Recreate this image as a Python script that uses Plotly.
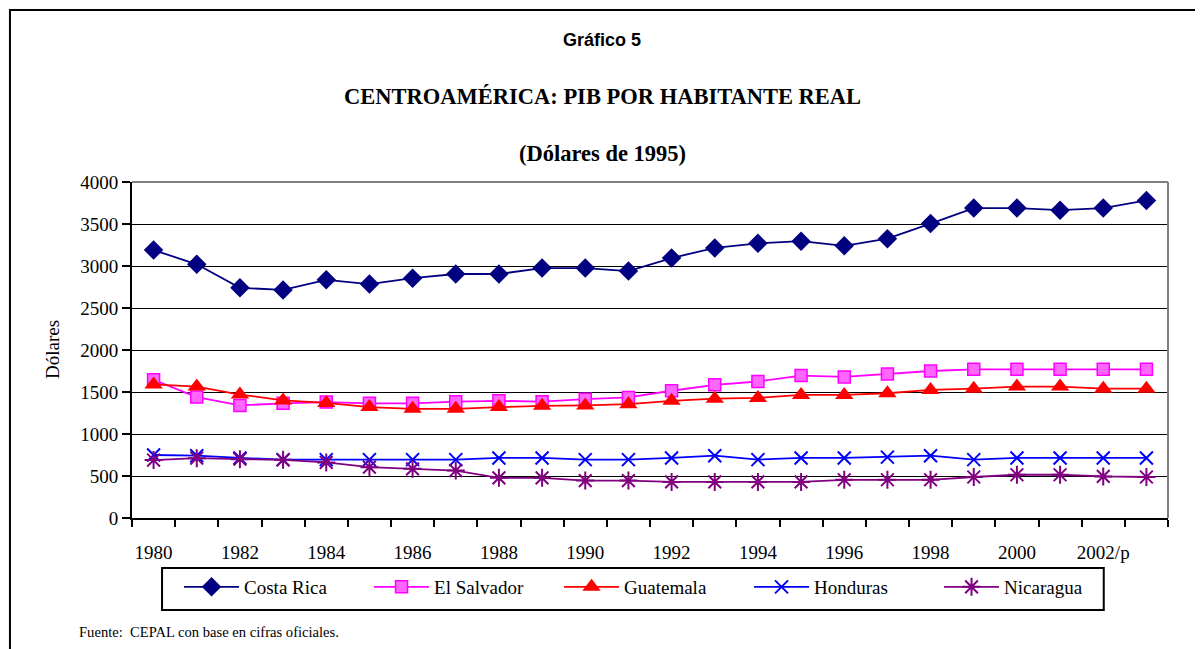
import plotly.graph_objects as go

years = list(range(1980, 2004))
tick_years = list(range(1980, 2003, 2))
tick_labels = ["1980", "1982", "1984", "1986", "1988", "1990", "1992", "1994",
               "1996", "1998", "2000", "2002/p"]

costa_rica = [3190, 3020, 2740, 2715, 2835, 2785, 2855, 2905, 2905, 2975, 2975, 2940,
              3095, 3215, 3270, 3295, 3240, 3325, 3505, 3690, 3690, 3665, 3690, 3780]
el_salvador = [1645, 1440, 1340, 1365, 1380, 1365, 1365, 1385, 1395, 1385, 1415, 1435,
               1515, 1585, 1625, 1695, 1680, 1715, 1750, 1770, 1770, 1770, 1770, 1770]
guatemala = [1590, 1565, 1470, 1400, 1370, 1320, 1300, 1300, 1320, 1335, 1340, 1355,
             1395, 1420, 1430, 1465, 1465, 1485, 1525, 1540, 1565, 1565, 1540, 1540]
honduras = [750, 742, 715, 695, 695, 695, 695, 695, 715, 715, 695, 695,
            715, 742, 695, 715, 715, 725, 742, 695, 715, 715, 715, 715]
nicaragua = [690, 712, 700, 692, 662, 605, 585, 565, 478, 478, 445, 445,
             430, 430, 430, 430, 455, 455, 455, 488, 515, 515, 495, 488]

series = [
    ("Costa Rica", costa_rica, "#000080", dict(symbol="diamond", size=15, color="#000080")),
    ("El Salvador", el_salvador, "#FF00FF", dict(symbol="square", size=12, color="#FF66FF",
                                                 line=dict(color="#FF00FF", width=1.5))),
    ("Guatemala", guatemala, "#FF0000", dict(symbol="triangle-up", size=16, color="#FF0000")),
    ("Honduras", honduras, "#0000FF", dict(symbol="x-thin-open", size=13, color="#0000FF",
                                           line=dict(color="#0000FF", width=2))),
    ("Nicaragua", nicaragua, "#800080", dict(symbol="asterisk-open", size=15, color="#800080",
                                             line=dict(color="#800080", width=2))),
]

fig = go.Figure()
for name, vals, col, mk in series:
    fig.add_trace(go.Scatter(x=years, y=vals, name=name, mode="lines+markers",
                             line=dict(color=col, width=1.8), marker=mk))

serif = "Liberation Serif, Times New Roman, serif"

fig.update_layout(
    width=1203, height=649,
    margin=dict(l=124, r=43, t=174, b=139),
    paper_bgcolor="white", plot_bgcolor="white",
    font=dict(family=serif, size=19, color="black"),
    showlegend=True,
    legend=dict(orientation="h", x=0.0454, xanchor="left", y=-0.1488, yanchor="top",
                bgcolor="rgba(0,0,0,0)", borderwidth=0, font=dict(family=serif, size=19),
                itemwidth=55, entrywidth=120, traceorder="normal"),
    xaxis=dict(range=[1979.5, 2003.5], tickvals=tick_years, ticktext=tick_labels,
               ticks="", showgrid=False, showline=True, linecolor="black", linewidth=2,
               zeroline=False, ticklabelstandoff=16,
               tickfont=dict(family=serif, size=19),
               minor=dict(tick0=1979.5, dtick=1, ticks="outside", ticklen=7,
                          tickwidth=2, tickcolor="black", showgrid=False)),
    yaxis=dict(range=[0, 4000], dtick=500, ticks="outside", ticklen=8, tickwidth=2,
               tickcolor="black", showgrid=True, gridcolor="black", gridwidth=1,
               showline=True, linecolor="black", linewidth=2, zeroline=False,
               tickfont=dict(family=serif, size=19)),
    shapes=[
        dict(type="line", xref="paper", yref="paper", x0=0, x1=1, y0=1, y1=1,
             line=dict(color="#808080", width=2), layer="above"),
        dict(type="line", xref="paper", yref="paper", x0=1, x1=1, y0=0, y1=1,
             line=dict(color="#808080", width=2), layer="above"),
        dict(type="rect", xref="paper", yref="paper", x0=-0.1178, x1=1.2, y0=1.512, y1=-0.6,
             line=dict(color="black", width=2)),
        dict(type="rect", xref="paper", yref="paper", x0=0.029, x1=0.938, y0=-0.1488, y1=-0.2738,
             line=dict(color="black", width=2)),
    ],
    annotations=[
        dict(text="<b>Gráfico 5</b>", xref="paper", yref="paper", x=0.4537, y=1.4226,
             xanchor="center", yanchor="middle", showarrow=False,
             font=dict(family="Liberation Sans Narrow, Liberation Sans, Arial", size=18)),
        dict(text="<b>CENTROAMÉRICA: PIB POR HABITANTE REAL</b>", xref="paper", yref="paper",
             x=0.4537, y=1.253, xanchor="center", yanchor="middle", showarrow=False,
             font=dict(family=serif, size=22.5)),
        dict(text="<b>(Dólares de 1995)</b>", xref="paper", yref="paper",
             x=0.4537, y=1.0863, xanchor="center", yanchor="middle", showarrow=False,
             font=dict(family=serif, size=22.5)),
        dict(text="Dólares", xref="paper", yref="paper", x=-0.0772, y=0.5,
             xanchor="center", yanchor="middle", textangle=-90, showarrow=False,
             font=dict(family=serif, size=19)),
        dict(text="Fuente:  CEPAL con base en cifras oficiales.", xref="paper", yref="paper",
             x=-0.0531, y=-0.339, xanchor="left", yanchor="middle", showarrow=False,
             font=dict(family=serif, size=14.6)),
    ],
)

fig.write_html("out.html")
